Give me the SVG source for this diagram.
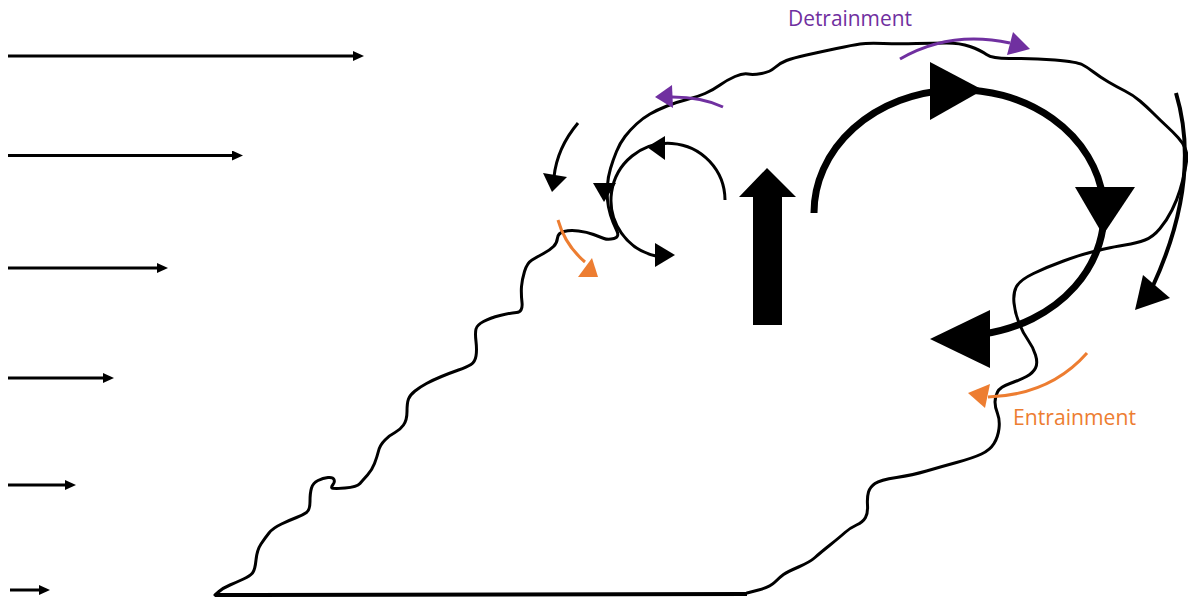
<svg xmlns="http://www.w3.org/2000/svg" width="1188" height="601" viewBox="0 0 1188 601">
  <style>
    .wind { stroke: #000; stroke-width: 3; fill: none; }
    .outline { stroke: #000; stroke-width: 3; fill: none; stroke-linejoin: round; stroke-linecap: round; }
    .flow { stroke: #000; fill: none; }
    .head { fill: #000; }
    .purple { stroke: #7030A0; stroke-width: 3; fill: none; }
    .orange { stroke: #ED7D31; stroke-width: 3; fill: none; }
    .label { font-family: "Open Sans", "Noto Sans", "Liberation Sans", sans-serif; font-size: 22px; }
  </style>
  <defs>
    <marker id="windHead" markerUnits="userSpaceOnUse" markerWidth="11" markerHeight="10" refX="0" refY="5" orient="auto">
      <path d="M0,0 L11,5 L0,10 z" fill="#000"/>
    </marker>
  </defs>

  <!-- wind profile: speed increasing with height -->
  <g id="wind-profile">
    <line class="wind" x1="8" y1="56" x2="353" y2="56" marker-end="url(#windHead)"/>
    <line class="wind" x1="8" y1="155.5" x2="232" y2="155.5" marker-end="url(#windHead)"/>
    <line class="wind" x1="8" y1="268" x2="157" y2="268" marker-end="url(#windHead)"/>
    <line class="wind" x1="8" y1="378" x2="103" y2="378" marker-end="url(#windHead)"/>
    <line class="wind" x1="8" y1="485" x2="65" y2="485" marker-end="url(#windHead)"/>
    <line class="wind" x1="10" y1="590" x2="39" y2="590" marker-end="url(#windHead)"/>
  </g>

  <!-- cloud / current outline (smoothed through traced points) -->
  <g id="cloud">
    <path class="outline" d="M215,595 L219,591.5 Q223,588 230,585 Q237,582 243.5,579 Q250,576 252.5,573 Q255,570 256,560 Q257,550 261,544 Q265,538 269,533 Q273,528 281.5,524 Q290,520 296.5,517.5 Q303,515 306.5,512.5 Q310,510 310,501.5 Q310,493 311.5,488 Q313,483 318,480.5 Q323,478 328,477.5 Q333,477 334,479.5 Q335,482 333,484.5 Q331,487 332,488 Q333,489 345,488 Q357,487 360,483.5 Q363,480 367.5,475 Q372,470 374.5,463.5 Q377,457 378.5,451 Q380,445 385,440 Q390,435 395,432.5 Q400,430 403.5,425 Q407,420 407,411.5 Q407,403 408.5,399 Q410,395 415,391 Q420,387 426.5,383.5 Q433,380 441.5,376.5 Q450,373 458.5,370 Q467,367 471,364.5 Q475,362 476,356 Q477,350 476,341.5 Q475,333 476,329 Q477,325 483.5,321.5 Q490,318 500,315.5 Q510,313 516.5,312.5 Q523,312 522,302.5 Q521,293 521.5,286.5 Q522,280 524.5,271.5 Q527,263 532,260 Q537,257 543.5,253.5 Q550,250 553.5,246.5 Q557,243 557.5,238 Q558,233 564,231.5 Q570,230 578.5,231 Q587,232 593.5,234.5 Q600,237 604,238.5 Q608,240 614,238.5 Q620,237 616.5,230 Q613,223 610.5,215 Q608,207 607.5,200 Q607,193 607.5,185 Q608,177 610.5,168.5 Q613,160 616.5,151.5 Q620,143 625,136.5 Q630,130 636.5,124 Q643,118 650,114 Q657,110 667,106 Q677,102 687,99.5 Q697,97 705,93.5 Q713,90 720,85 Q727,80 735,76.5 Q743,73 748,74 Q753,75 761.5,73.5 Q770,72 775,67.5 Q780,63 786.5,60.5 Q793,58 806.5,55 Q820,52 836.5,48.5 Q853,45 860,44 Q867,43 883.5,43.5 Q900,44 916.5,43.5 Q933,43 946.5,43 Q960,43 970,46.5 Q980,50 986.5,54.5 Q993,59 1013,58.5 Q1033,58 1055,60 Q1077,62 1082,64.5 Q1087,67 1093.5,72 Q1100,77 1108.5,82 Q1117,87 1125,91 Q1133,95 1140,101 Q1147,107 1153.5,113.5 Q1160,120 1166.5,126 Q1173,132 1178,137.5 Q1183,143 1185,148 Q1187,153 1187,156.5 Q1187,160 1185,170 Q1183,180 1180,190 Q1177,200 1172,210 Q1167,220 1160,228.5 Q1153,237 1145,240 Q1137,243 1125,245 Q1113,247 1106.5,248.5 Q1100,250 1090,252.5 Q1080,255 1063.5,261 Q1047,267 1033.5,273.5 Q1020,280 1016.5,286.5 Q1013,293 1014,303 Q1015,313 1019,323 Q1023,333 1028,340 Q1033,347 1035.5,355 Q1038,363 1035.5,368 Q1033,373 1026.5,376.5 Q1020,380 1010,383.5 Q1000,387 997.5,392 Q995,397 995,402 Q995,407 997.5,413.5 Q1000,420 999,428.5 Q998,437 994,443.5 Q990,450 981.5,454 Q973,458 956.5,462.5 Q940,467 926.5,471 Q913,475 896.5,477.5 Q880,480 875,483.5 Q870,487 868.5,492 Q867,497 867.5,505 Q868,513 865.5,517.5 Q863,522 856.5,525 Q850,528 845,532.5 Q840,537 830,545 Q820,553 815,557.5 Q810,562 798.5,567 Q787,572 783.5,574.5 Q780,577 775,582 Q770,587 758.5,590 L747,593"/>
    <line x1="215" y1="595" x2="747" y2="594" stroke="#000" stroke-width="4"/>
  </g>

  <!-- main overturning circulation in the head -->
  <g id="head-vortex">
    <path class="flow" stroke-width="7" d="M814,213 A145,123 0 1 1 983,334"/>
    <polygon class="head" points="930,62 930,120 983,90"/>
    <polygon class="head" points="1075,187 1135,187 1103,235"/>
    <polygon class="head" points="930,339 990,310 990,368"/>
  </g>

  <!-- updraft -->
  <g id="updraft">
    <polygon class="head" points="753,325 753,197 739,197 767,168 796,197 782,197 782,325"/>
  </g>

  <!-- small eddy at the nose -->
  <g id="nose-eddy">
    <path class="flow" stroke-width="3" d="M725,200 A57,57 0 1 0 656,256"/>
    <polygon class="head" points="647,147 665,136 665,160"/>
    <polygon class="head" points="655,243 655,267 675,255"/>
    <polygon class="head" points="593,183 616,183 604,202"/>
  </g>

  <!-- outer descending flows -->
  <g id="outer-flows">
    <path class="flow" stroke-width="3" d="M578,123 Q557,148 554,177"/>
    <polygon class="head" points="543,173 567,177 552,192"/>
    <path class="flow" stroke-width="4" d="M1176,93 Q1202,180 1152,288"/>
    <polygon class="head" points="1143,275 1170,298 1135,310"/>
  </g>

  <!-- detrainment -->
  <g id="detrainment">
    <path class="purple" d="M900,59 Q950,30 1010,43"/>
    <polygon fill="#7030A0" points="1013,32 1030,49 1007,55"/>
    <path class="purple" d="M723,107 Q702,97 672,97"/>
    <polygon fill="#7030A0" points="655,97 672,85 673,108"/>
    <text class="label" x="788" y="26" fill="#7030A0" textLength="124" lengthAdjust="spacingAndGlyphs">Detrainment</text>
  </g>

  <!-- entrainment -->
  <g id="entrainment">
    <path class="orange" d="M1087,353 Q1050,395 988,397"/>
    <polygon fill="#ED7D31" points="968,393 990,384 985,408"/>
    <path class="orange" d="M558,220 Q565,245 585,262"/>
    <polygon fill="#ED7D31" points="578,277 598,277 592,258"/>
    <text class="label" x="1013" y="425" fill="#ED7D31" textLength="123" lengthAdjust="spacingAndGlyphs">Entrainment</text>
  </g>
</svg>
